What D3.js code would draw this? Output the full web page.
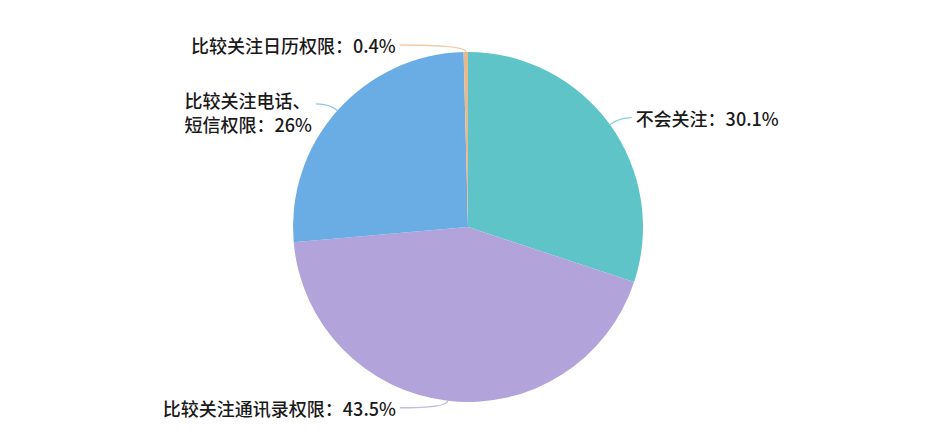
<!DOCTYPE html>
<html>
<head>
<meta charset="utf-8">
<script src="https://cdn.jsdelivr.net/npm/d3@7"></script>
<style>
  body { margin: 0; background: #fff; }
  svg { display: block; }
  text { font-family: "Noto Sans CJK SC", "Noto Sans", sans-serif; font-size: 18px; font-weight: 500; fill: #1a1a1a; }
</style>
</head>
<body>
<svg width="944" height="440"></svg>
<script>
// 数据
const categories = ["不会关注", "比较关注通讯录权限", "比较关注电话、短信权限", "比较关注日历权限"];
const values = [30.1, 43.5, 26, 0.4];
const labelText = ["不会关注：30.1%", "比较关注通讯录权限：43.5%", "比较关注电话、\n短信权限：26%", "比较关注日历权限：0.4%"];
const colors = ["#5ec4c8", "#b2a3db", "#6aade5", "#e8b98f"];

// 标签引导线长度 (第一段, 第二段)
const lineLen1 = [12, 7, 10, 7];
const lineLen2 = [12, 47, 14, 66];

const svg = d3.select("svg"),
  cx = 468,
  cy = 227,
  radius = 175;

const g = svg.append("g").attr("transform", `translate(${cx},${cy})`);

const data = categories.map((c, i) => ({ name: c, value: values[i], i }));

const pie = d3.pie().sort(null).value((d) => d.value);
const arc = d3.arc().innerRadius(0).outerRadius(radius);
const arcs = pie(data);

g.selectAll("path.slice")
  .data(arcs)
  .enter()
  .append("path")
  .attr("class", "slice")
  .attr("d", arc)
  .attr("fill", (d) => colors[d.data.i]);

// 标签
arcs.forEach((d) => {
  const i = d.data.i;
  const mid = (d.startAngle + d.endAngle) / 2;
  const sx = Math.sin(mid), sy = -Math.cos(mid);
  const p0 = [sx * radius, sy * radius];
  const r1 = radius + lineLen1[i];
  const p1 = [sx * r1, sy * r1];
  const side = sx >= 0 ? 1 : -1;
  const p2 = [p1[0] + side * lineLen2[i], p1[1]];

  // 平滑引导线
  g.append("path")
    .attr("d", `M${p0[0]},${p0[1]} Q${p1[0]},${p1[1]} ${p2[0]},${p2[1]}`)
    .attr("fill", "none")
    .attr("stroke", d3.color(colors[i]).copy({ opacity: 0.75 }))
    .attr("stroke-width", 1.3);

  const lines = labelText[i].split("\n");
  const t = g.append("text")
    .attr("text-anchor", side > 0 ? "start" : "end")
    .attr("dominant-baseline", "central");
  if (lines.length === 1) {
    t.attr("x", p2[0] + side * 4).attr("y", p2[1]).text(lines[0]);
  } else {
    // 多行：左对齐块
    t.attr("text-anchor", "start");
    const tmp = g.append("text").text(lines[1]);
    const w = d3.max(lines, (l) => { tmp.text(l); return tmp.node().getComputedTextLength(); });
    tmp.remove();
    const x0 = side > 0 ? p2[0] + 4 : p2[0] - 4 - w;
    lines.forEach((l, k) => {
      t.append("tspan")
        .attr("x", x0)
        .attr("y", p2[1] - 4 + k * 24)
        .text(l);
    });
  }
});
</script>
</body>
</html>
